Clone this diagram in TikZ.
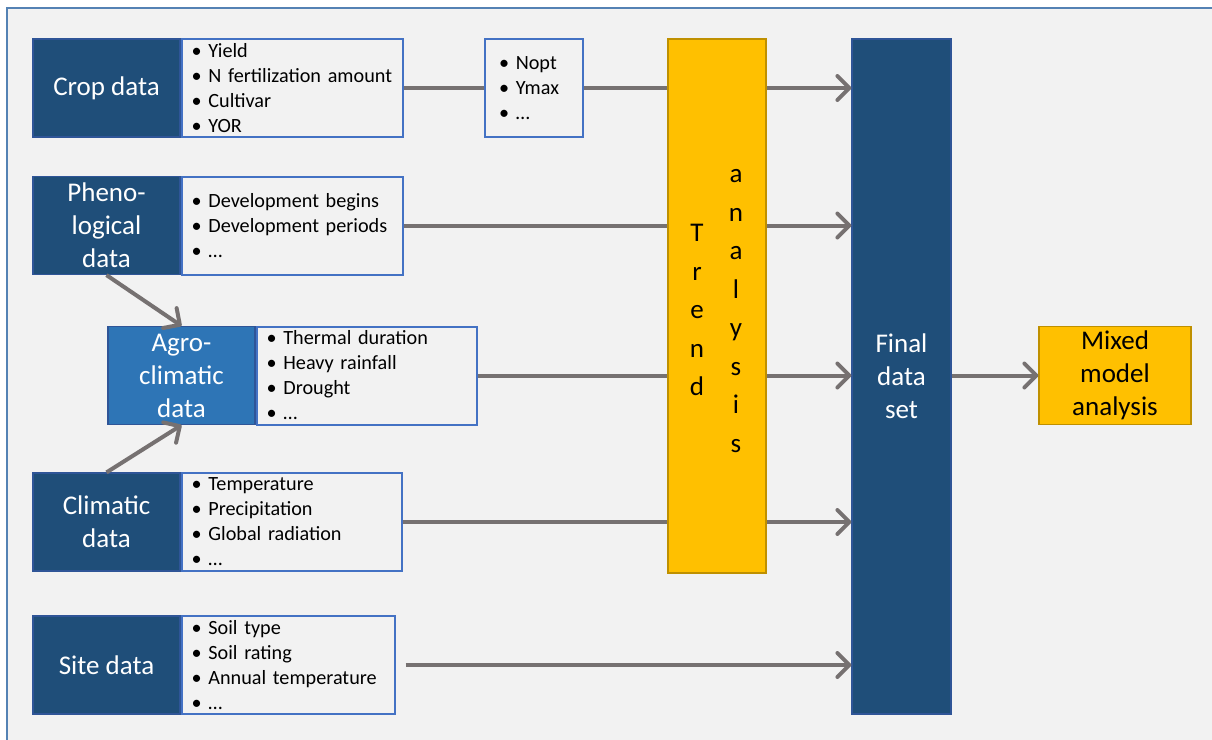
\documentclass[tikz,border=0pt]{standalone}
\usepackage{fontspec}
\setmainfont{Carlito}
\usetikzlibrary{positioning, arrows.meta}

\definecolor{datacolor}{RGB}{31,78,121}
\definecolor{agrocolor}{RGB}{46,117,182}
\definecolor{edgecolor}{RGB}{47,85,151}
\definecolor{listcolor}{RGB}{68,114,196}
\definecolor{trendcolor}{RGB}{255,192,0}
\definecolor{trendedge}{RGB}{191,144,0}
\definecolor{linkcolor}{RGB}{118,113,113}
\definecolor{paneledge}{RGB}{84,130,180}
\definecolor{panelcolor}{RGB}{242,242,242}

\begin{document}
\begin{tikzpicture}[x=0.5pt, y=-0.5pt, thick,
    main/.style = {draw=edgecolor, line width=0.6pt, fill=datacolor, text=white, minimum width=73.5pt, minimum height=49pt, inner sep=1pt, align=center, font=\fontsize{13.5}{16.5}\selectfont},
    list/.style = {draw=listcolor, line width=1pt, fill=panelcolor, minimum height=49pt, text width=#1, inner xsep=5pt, inner ysep=0.5pt, align=left, font=\fontsize{10.1}{12.5}\selectfont},
    trend/.style = {draw=trendedge, line width=0.8pt, fill=trendcolor, minimum width=49pt},
    letters/.style = {align=center, font=\fontsize{13.5}{19.25}\selectfont},
    link/.style = {draw=linkcolor, line width=2pt},
    arrow/.style = {link, -{Straight Barb[length=6pt, width=12pt, round]}}]
    \useasboundingbox (0,0) rectangle (1212,740);
    \fill[panelcolor] (7,8) rectangle (1212,740);
    \draw[paneledge, line width=1pt] (7,740) -- (7,8) -- (1212,8);

    \node[main] (crop) at (106.5,88) {Crop data};
    \node[list=100.5pt, right=0pt of crop] (croplist) {\textbullet\ Yield\\\textbullet\ N fertilization amount\\\textbullet\ Cultivar\\\textbullet\ YOR};
    \node[list=35pt, inner xsep=7pt] (nopt) at (534,88) {\textbullet\ Nopt\\\textbullet\ Ymax\\\textbullet\ \dots};

    \node[main] (pheno) at (106.5,225.5) {Pheno-\\logical\\data};
    \node[list=100.5pt, right=0pt of pheno] (phenolist) {\textbullet\ Development begins\\\textbullet\ Development periods\\\textbullet\ \dots};

    \node[main, fill=agrocolor] (agro) at (181.5,375.5) {Agro-\\climatic\\data};
    \node[list=100pt, right=0pt of agro] (agrolist) {\textbullet\ Thermal duration\\\textbullet\ Heavy rainfall\\\textbullet\ Drought\\\textbullet\ \dots};

    \node[main] (clim) at (106.5,522) {Climatic\\data};
    \node[list=100pt, right=0pt of clim] (climlist) {\textbullet\ Temperature\\\textbullet\ Precipitation\\\textbullet\ Global radiation\\\textbullet\ \dots};

    \node[main] (site) at (106.5,665) {Site data};
    \node[list=96.5pt, right=0pt of site] (sitelist) {\textbullet\ Soil type\\\textbullet\ Soil rating\\\textbullet\ Annual temperature\\\textbullet\ \dots};

    \node[main, minimum width=49.5pt, minimum height=337.5pt] (final) at (901.5,376.5) {Final\\data\\set};
    \node[main, fill=trendcolor, draw=trendedge, text=black, minimum width=76pt] (mixed) at (1115,375.5) {Mixed\\model\\analysis};

    \draw[link] (croplist) -- (nopt);
    \draw[arrow] (nopt.east) -- (nopt.east -| final.west);
    \draw[arrow] (phenolist.east) -- (phenolist.east -| final.west);
    \draw[arrow] (agrolist.east) -- (agrolist.east -| final.west);
    \draw[arrow] (climlist.east) -- (climlist.east -| final.west);
    \draw[arrow] ([xshift=5pt]sitelist.east) -- (sitelist.east -| final.west);
    \draw[arrow] (final.east |- mixed.west) -- (mixed.west);
    \draw[arrow] (pheno.south) -- (agro.north);
    \draw[arrow] (clim.north) -- (agro.south);

    % trend box goes over the links
    \node[trend, minimum height=267pt] (trend) at (717,306) {};
    \node[letters] (trendword) at ([xshift=-10pt, yshift=-2pt]trend.center) {T\\r\\e\\n\\d};
    \node[letters] (analysisword) at ([xshift=9.5pt, yshift=-2.5pt]trend.center) {a\\n\\a\\l\\y\\s\\i\\s};
\end{tikzpicture}
\end{document}
